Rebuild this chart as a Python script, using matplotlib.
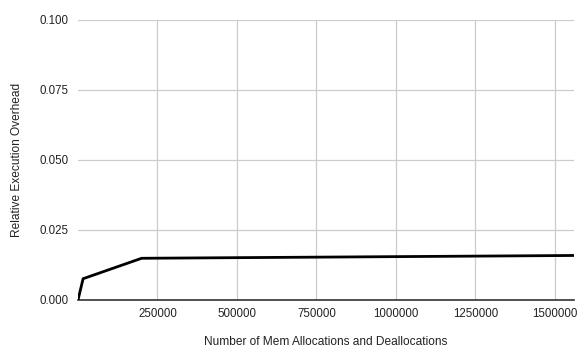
import matplotlib
matplotlib.use("Agg")
import matplotlib.pyplot as plt

allocs = [0, 16000, 200000, 1560000]
overhead = [0.0, 0.0076, 0.0149, 0.0159]
xticks = [250000, 500000, 750000, 1000000, 1250000, 1500000]
yticks = [0.000, 0.025, 0.050, 0.075, 0.100]

plt.rcParams['font.family'] = ['Liberation Sans', 'DejaVu Sans']
fig = plt.figure(figsize=(5.86, 3.62), dpi=100)
ax = fig.add_axes([78/586, 1-300/362, (574-78)/586, (300-20)/362])
ax.plot(allocs, overhead, color='black', lw=2, solid_joinstyle='miter', zorder=3)
ax.set_xlim(0, 1560000)
ax.set_ylim(0, 0.1)
ax.set_xticks(xticks)
ax.set_xticklabels([str(v) for v in xticks])
ax.set_yticks(yticks)
ax.set_yticklabels([f"{v:.3f}" for v in yticks])
ax.grid(True, color='#cccccc', lw=0.9)
ax.set_axisbelow(True)
for s in ['top', 'right', 'left']:
    ax.spines[s].set_visible(False)
ax.spines['bottom'].set_color('#333333')
ax.spines['bottom'].set_linewidth(1.2)
ax.tick_params(length=0, labelsize=8.3, colors='#222222', pad=6)
ax.tick_params(axis='y', pad=7)
ax.set_xlabel('Number of Mem Allocations and Deallocations', fontsize=8.6, color='#222222')
ax.set_ylabel('Relative Execution Overhead', fontsize=8.6, color='#222222')
ax.xaxis.set_label_coords((325.5-78)/496, -(342-300)/280)
ax.xaxis.label.set_va('center')
ax.yaxis.set_label_coords(-(78-17)/496, 0.5)
ax.yaxis.label.set_va('center')
fig.savefig('out.png', dpi=100)
